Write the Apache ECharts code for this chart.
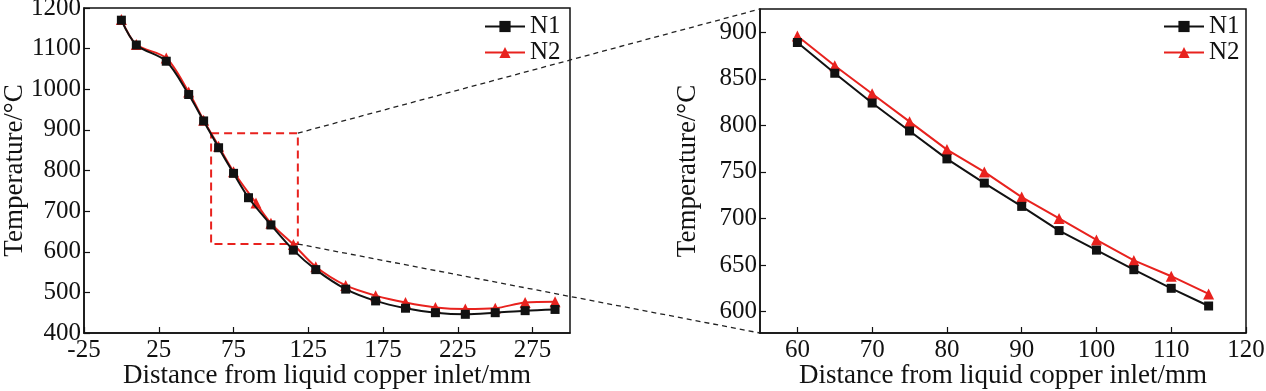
<!DOCTYPE html>
<html>
<head>
<meta charset="utf-8">
<script src="https://cdn.jsdelivr.net/npm/echarts@6/dist/echarts.min.js"></script>
<style>
html,body{margin:0;padding:0;background:#fff;}
#c{width:1266px;height:391px;}
</style>
</head>
<body>
<div id="c"></div>
<script>
// ---- data: overview (left) ----
const n1X = [0, 10, 30, 45, 55, 65, 75, 85, 100, 115, 130, 150, 170, 190, 210, 230, 250, 270, 290];
const n1T = [1170, 1109, 1069, 987, 922, 856, 793, 733, 666, 604, 556, 508, 479, 461, 450, 446, 450, 455, 458];
const n2X = [0, 10, 30, 45, 55, 65, 75, 90, 100, 115, 130, 150, 170, 190, 210, 230, 250, 270, 290];
const n2T = [1172, 1110, 1077, 993, 924, 860, 797, 720, 670, 618, 563, 517, 492, 475, 463, 459, 461, 475, 477];
// ---- data: zoomed detail (right) ----
const zoomX = [60, 65, 70, 75, 80, 85, 90, 95, 100, 105, 110, 115];
const zoomN1 = [889, 856, 824, 794, 764, 738, 713, 687, 666, 645, 625, 606];
const zoomN2 = [896, 864, 834, 804, 774, 750, 723, 700, 677, 655, 638, 619];
// ---- tick labels ----
const leftXTicks = [-25, 25, 75, 125, 175, 225, 275];
const rightXTicks = [60, 70, 80, 90, 100, 110, 120];
const rightYTicks = [600, 650, 700, 750, 800, 850, 900];
// ---- zoom box on left chart ----
const zoomBoxX = [60, 118];
const zoomBoxT = [619, 892];

const seriesNames = ['N1', 'N2'];
const xTitle = 'Distance from liquid copper inlet/mm';
const yTitle = 'Temperature/°C';

const BLACK = '#111111', RED = '#e8221e';
const FONT = '"Liberation Serif", "DejaVu Serif", serif';
const FS = 25;   // tick labels, legend
const FT = 27;   // axis titles
const plain = v => String(v);

function pairs(xs, ys) { return xs.map((x, i) => [x, ys[i]]); }

const axisLineStyle = { color: BLACK, width: 1.5 };
function xAxis(gridIndex, min, max, ticks) {
  return {
    type: 'value', gridIndex, min, max,
    axisLine: { show: true, onZero: false, lineStyle: axisLineStyle },
    axisTick: { show: true, inside: true, length: 6, customValues: ticks, lineStyle: { color: BLACK, width: 1.2 } },
    axisLabel: { customValues: ticks, formatter: plain, color: BLACK, fontFamily: FONT, fontSize: FS, margin: 5 },
    splitLine: { show: false },
    name: xTitle, nameLocation: 'middle', nameGap: 29, nameMoveOverlap: false,
    nameTextStyle: { color: BLACK, fontFamily: FONT, fontSize: FT }
  };
}
function yAxis(gridIndex, min, max, ticks, gap) {
  const a = {
    type: 'value', gridIndex, min, max,
    axisLine: { show: true, onZero: false, lineStyle: axisLineStyle },
    axisTick: { show: true, inside: true, length: 6, lineStyle: { color: BLACK, width: 1.2 } },
    axisLabel: { formatter: plain, color: BLACK, fontFamily: FONT, fontSize: FS, margin: 3 },
    splitLine: { show: false },
    name: yTitle, nameLocation: 'middle', nameGap: gap, nameMoveOverlap: false,
    nameTextStyle: { color: BLACK, fontFamily: FONT, fontSize: FT }
  };
  if (ticks) { a.axisTick.customValues = ticks; a.axisLabel.customValues = ticks; }
  else { a.interval = 100; }
  return a;
}
function legend(left) {
  return { data: seriesNames, orient: 'vertical', left, top: 9, itemWidth: 40, itemHeight: 14, itemGap: 1,
    textStyle: { color: BLACK, fontFamily: FONT, fontSize: FS }, selectedMode: false };
}

const gridBase = { show: true, borderColor: BLACK, borderWidth: 1.5, backgroundColor: 'transparent',
  containLabel: false, outerBoundsMode: 'none' };

const chart = echarts.init(document.getElementById('c'), null, { renderer: 'canvas' });
const option = {
  animation: false,
  backgroundColor: '#fff',
  grid: [
    Object.assign({ left: 84, right: 696, top: 8, bottom: 58 }, gridBase),
    Object.assign({ left: 760, right: 20, top: 9, bottom: 58 }, gridBase)
  ],
  xAxis: [
    xAxis(0, -25, 300, leftXTicks),
    xAxis(1, 55, 120, rightXTicks)
  ],
  yAxis: [
    yAxis(0, 400, 1200, null, 56),
    yAxis(1, 577, 925, rightYTicks, 59)
  ],
  legend: [legend(479), legend(1158)],
  series: [
    { name: 'N1', type: 'line', xAxisIndex: 0, yAxisIndex: 0, data: pairs(n1X, n1T), smooth: 0.3,
      symbol: 'rect', symbolSize: 9, color: BLACK, lineStyle: { width: 2, color: BLACK }, itemStyle: { color: BLACK }, z: 3 },
    { name: 'N2', type: 'line', xAxisIndex: 0, yAxisIndex: 0, data: pairs(n2X, n2T), smooth: 0.3,
      symbol: 'triangle', symbolSize: 11, color: RED, lineStyle: { width: 2, color: RED }, itemStyle: { color: RED }, z: 2,
      markArea: { silent: true,
        itemStyle: { color: 'transparent', borderColor: RED, borderWidth: 2, borderType: [8, 5] },
        data: [[{ coord: [zoomBoxX[0], zoomBoxT[1]] }, { coord: [zoomBoxX[1], zoomBoxT[0]] }]] } },
    { name: 'N1', type: 'line', xAxisIndex: 1, yAxisIndex: 1, data: pairs(zoomX, zoomN1),
      symbol: 'rect', symbolSize: 9, color: BLACK, lineStyle: { width: 2, color: BLACK }, itemStyle: { color: BLACK }, z: 3 },
    { name: 'N2', type: 'line', xAxisIndex: 1, yAxisIndex: 1, data: pairs(zoomX, zoomN2),
      symbol: 'triangle', symbolSize: 11, color: RED, lineStyle: { width: 2, color: RED }, itemStyle: { color: RED }, z: 2 }
  ]
};
chart.setOption(option);

// connector lines from zoom box corners to the detail chart's corners
const boxTop = chart.convertToPixel({ xAxisIndex: 0, yAxisIndex: 0 }, [zoomBoxX[1], zoomBoxT[1]]);
const boxBot = chart.convertToPixel({ xAxisIndex: 0, yAxisIndex: 0 }, [zoomBoxX[1], zoomBoxT[0]]);
const detTL = chart.convertToPixel({ xAxisIndex: 1, yAxisIndex: 1 }, [55, 925]);
const detBL = chart.convertToPixel({ xAxisIndex: 1, yAxisIndex: 1 }, [55, 577]);
const dash = { stroke: '#222', lineWidth: 1.3, lineDash: [5, 4] };
chart.setOption({
  graphic: [
    { type: 'line', shape: { x1: boxTop[0], y1: boxTop[1], x2: detTL[0], y2: detTL[1] }, style: dash, z: 1, silent: true },
    { type: 'line', shape: { x1: boxBot[0], y1: boxBot[1], x2: detBL[0], y2: detBL[1] }, style: dash, z: 1, silent: true }
  ]
});
</script>
</body>
</html>
